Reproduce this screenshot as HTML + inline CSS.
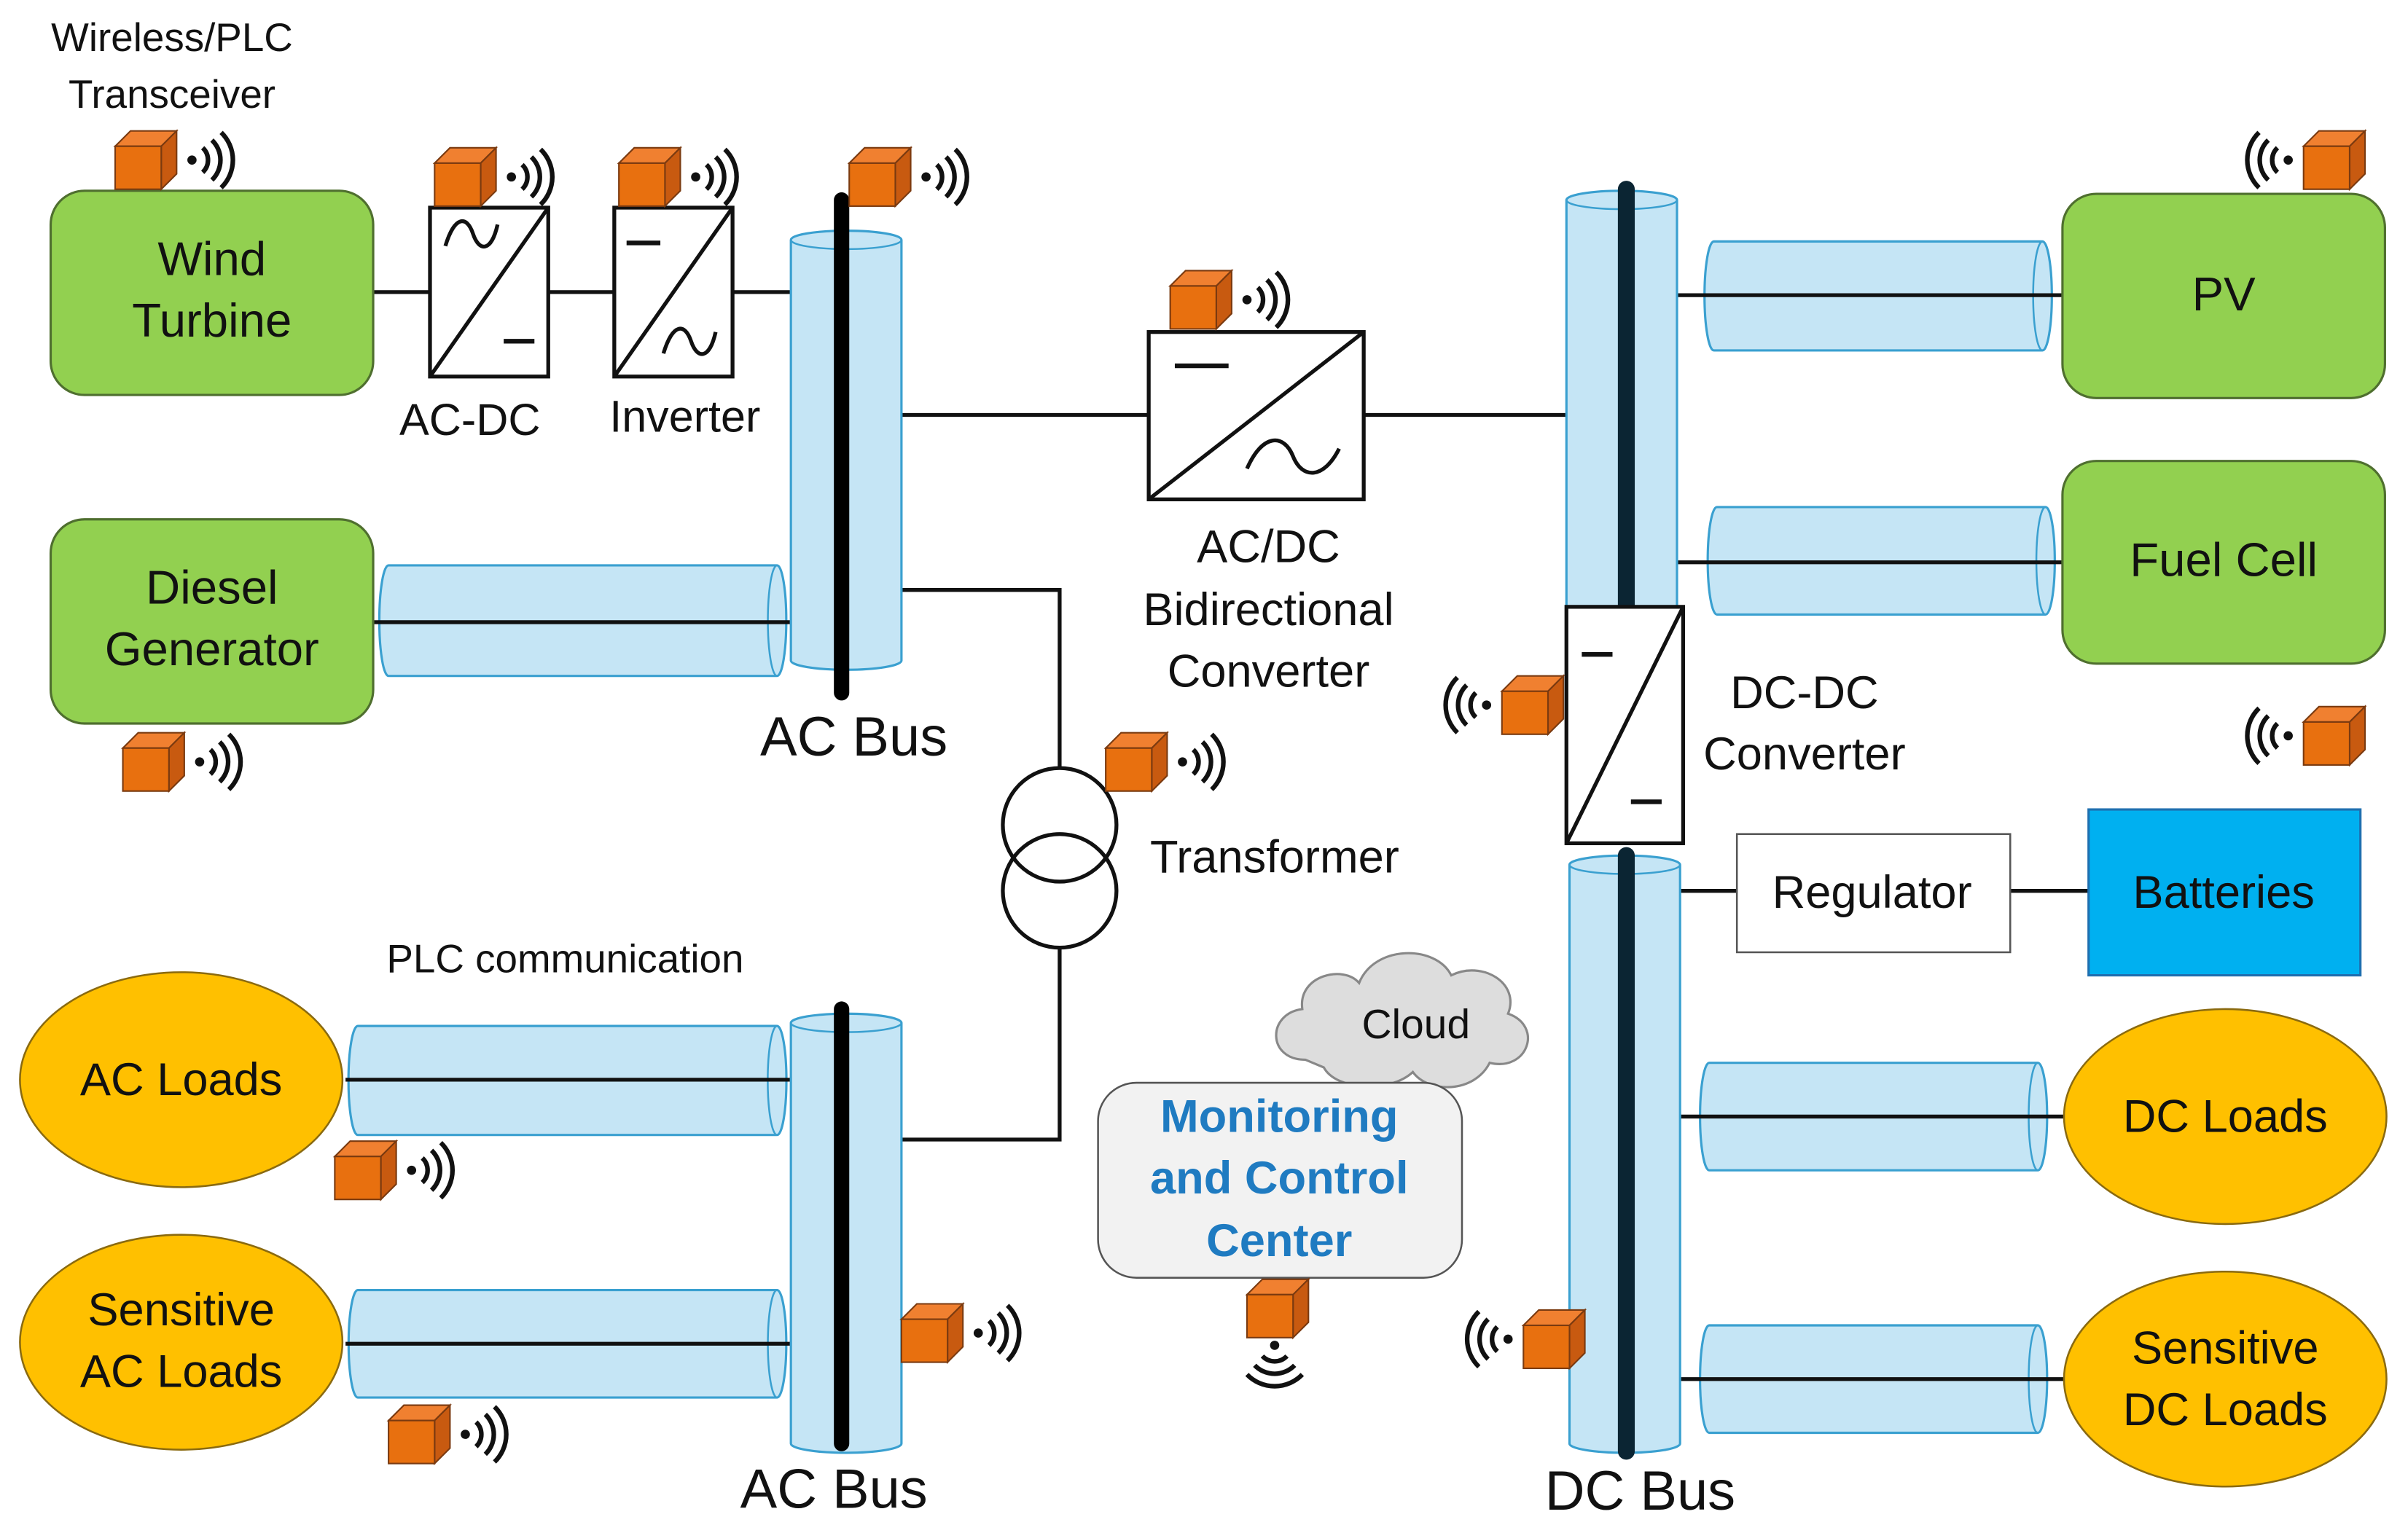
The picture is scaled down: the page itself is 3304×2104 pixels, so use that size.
<!DOCTYPE html>
<html><head><meta charset="utf-8"><style>html,body{margin:0;padding:0;background:#fff}svg{display:block}text{font-family:"Liberation Sans",sans-serif}</style></head>
<body>
<svg width="3304" height="2104" viewBox="0 0 1568 998" xmlns="http://www.w3.org/2000/svg">
<defs>
<g id="cube">
<path d="M0,10 L10,0 L40,0 L30,10 Z" fill="#f08030" stroke="#7a3a10" stroke-width="1"/>
<path d="M30,10 L40,0 L40,28 L30,38 Z" fill="#c85a10" stroke="#7a3a10" stroke-width="1"/>
<rect x="0" y="10" width="30" height="28" fill="#e8700f" stroke="#7a3a10" stroke-width="1"/>
</g>
<g id="waves" fill="none" stroke="#111" stroke-width="3">
<circle cx="0" cy="0" r="3" fill="#111" stroke="none"/>
<path d="M7,-8 A11,11 0 0 1 7,8"/>
<path d="M13,-13 A18,18 0 0 1 13,13"/>
<path d="M19,-18 A25,25 0 0 1 19,18"/>
</g>
<g id="tx"><use href="#cube"/><use href="#waves" x="50" y="19"/></g>
<g id="txl"><use href="#cube" x="30"/><use href="#waves" transform="translate(20,19) scale(-1,1)"/></g>
</defs>

<g stroke="#111" stroke-width="2.5" fill="none">
<line x1="243" y1="190" x2="548" y2="190"/>
<line x1="548" y1="270" x2="1058" y2="270"/>
<polyline points="548,384 690,384 690,500"/>
<polyline points="690,617 690,742 548,742"/>
<line x1="1060" y1="580" x2="1360" y2="580"/>
</g>

<!-- horizontal cylinders -->
<g fill="#c5e5f5" stroke="#3aa0d0" stroke-width="1.5">
<path d="M253,368 H506 A6,36 0 0 1 506,440 H253 A6,36 0 0 1 253,368 Z"/>
<path d="M233,668 H506 A6,35 0 0 1 506,739 H233 A6,35 0 0 1 233,668 Z"/>
<path d="M233,840 H506 A6,35 0 0 1 506,910 H233 A6,35 0 0 1 233,840 Z"/>
<path d="M1116,157 H1330 A6,35 0 0 1 1330,228 H1116 A6,35 0 0 1 1116,157 Z"/>
<path d="M1118,330 H1332 A6,35 0 0 1 1332,400 H1118 A6,35 0 0 1 1118,330 Z"/>
<path d="M1113,692 H1327 A6,35 0 0 1 1327,762 H1113 A6,35 0 0 1 1113,692 Z"/>
<path d="M1113,863 H1327 A6,35 0 0 1 1327,933 H1113 A6,35 0 0 1 1113,863 Z"/>
</g>
<g fill="none" stroke="#3aa0d0" stroke-width="1.2">
<path d="M506,368 A6,36 0 0 0 506,440"/>
<path d="M506,668 A6,35 0 0 0 506,739"/>
<path d="M506,840 A6,35 0 0 0 506,910"/>
<path d="M1330,157 A6,35 0 0 0 1330,228"/>
<path d="M1332,330 A6,35 0 0 0 1332,400"/>
<path d="M1327,692 A6,35 0 0 0 1327,762"/>
<path d="M1327,863 A6,35 0 0 0 1327,933"/>
</g>
<g stroke="#111" stroke-width="2.5">
<line x1="243" y1="405" x2="548" y2="405"/>
<line x1="225" y1="703" x2="548" y2="703"/>
<line x1="225" y1="875" x2="548" y2="875"/>
<line x1="1058" y1="192" x2="1343" y2="192"/>
<line x1="1058" y1="366" x2="1343" y2="366"/>
<line x1="1058" y1="727" x2="1345" y2="727"/>
<line x1="1058" y1="898" x2="1345" y2="898"/>
</g>

<!-- vertical cylinders -->
<g fill="#c5e5f5" stroke="#3aa0d0" stroke-width="1.5">
<path d="M515,156 A36,6 0 0 1 587,156 V430 A36,6 0 0 1 515,430 Z"/>
<path d="M515,666 A36,6 0 0 1 587,666 V940 A36,6 0 0 1 515,940 Z"/>
<path d="M1020,130 A36,6 0 0 1 1092,130 V395 H1020 Z"/>
<path d="M1022,563 A36,6 0 0 1 1094,563 V940 A36,6 0 0 1 1022,940 Z"/>
</g>
<g fill="none" stroke="#3aa0d0" stroke-width="1.2">
<path d="M515,156 A36,6 0 0 0 587,156"/>
<path d="M515,666 A36,6 0 0 0 587,666"/>
<path d="M1020,130 A36,6 0 0 0 1092,130"/>
<path d="M1022,563 A36,6 0 0 0 1094,563"/>
</g>
<g stroke-linecap="round">
<line x1="548" y1="130" x2="548" y2="451" stroke="#000" stroke-width="10"/>
<line x1="548" y1="657" x2="548" y2="940" stroke="#000" stroke-width="10"/>
<line x1="1059" y1="123" x2="1059" y2="395" stroke="#0b2533" stroke-width="11"/>
<line x1="1059" y1="557" x2="1059" y2="945" stroke="#0b2533" stroke-width="11"/>
</g>

<!-- green boxes -->
<g fill="#92d050" stroke="#4f6f2f" stroke-width="1.5">
<rect x="33" y="124" width="210" height="133" rx="22"/>
<rect x="33" y="338" width="210" height="133" rx="22"/>
<rect x="1343" y="126" width="210" height="133" rx="22"/>
<rect x="1343" y="300" width="210" height="132" rx="22"/>
</g>
<g fill="#ffc000" stroke="#8a6a10" stroke-width="1.2">
<ellipse cx="118" cy="703" rx="105" ry="70"/>
<ellipse cx="118" cy="874" rx="105" ry="70"/>
<ellipse cx="1449" cy="727" rx="105" ry="70"/>
<ellipse cx="1449" cy="898" rx="105" ry="70"/>
</g>
<rect x="1360" y="527" width="177" height="108" fill="#00b0f0" stroke="#1f6fb0" stroke-width="1.5"/>
<rect x="1131" y="543" width="178" height="77" fill="#fff" stroke="#555" stroke-width="1.2"/>

<!-- converters -->
<g fill="#fff" stroke="#111" stroke-width="2.5">
<rect x="280" y="135" width="77" height="110"/>
<rect x="400" y="135" width="77" height="110"/>
<rect x="748" y="216" width="140" height="109"/>
<rect x="1020" y="395" width="76" height="154"/>
</g>
<g stroke="#111" stroke-width="2.5" fill="none">
<line x1="280" y1="245" x2="357" y2="135"/>
<line x1="400" y1="245" x2="477" y2="135"/>
<line x1="748" y1="325" x2="888" y2="216"/>
<line x1="1020" y1="549" x2="1096" y2="395"/>
<path d="M290,160 C296,140 304,140 308,152 C312,164 320,164 324,146"/>
<line x1="328" y1="222" x2="348" y2="222" stroke-width="3"/>
<line x1="408" y1="158" x2="430" y2="158" stroke-width="3"/>
<path d="M432,230 C438,210 446,210 450,222 C454,234 462,234 466,216"/>
<line x1="765" y1="238" x2="800" y2="238" stroke-width="3"/>
<path d="M812,305 C822,282 836,282 842,297 C848,312 862,312 872,292"/>
<line x1="1030" y1="426" x2="1050" y2="426" stroke-width="3"/>
<line x1="1062" y1="522" x2="1082" y2="522" stroke-width="3"/>
<circle cx="690" cy="537" r="37" stroke-width="2.5"/>
<circle cx="690" cy="580" r="37" stroke-width="2.5"/>
</g>

<!-- cloud -->
<path d="M850,690 C825,690 825,660 848,657 C845,635 875,628 885,640 C895,615 935,615 945,635 C965,625 990,640 982,660 C1005,668 995,698 970,692 C960,712 930,712 920,698 C905,712 870,710 862,695 Z" fill="#ddd" stroke="#888" stroke-width="1.5"/>
<rect x="715" y="705" width="237" height="127" rx="25" fill="#f2f2f2" stroke="#555" stroke-width="1.2"/>

<!-- transceivers -->
<use href="#tx" x="75" y="85"/>
<use href="#tx" x="283" y="96"/>
<use href="#tx" x="403" y="96"/>
<use href="#tx" x="553" y="96"/>
<use href="#tx" x="762" y="176"/>
<use href="#tx" x="80" y="477"/>
<use href="#tx" x="720" y="477"/>
<use href="#tx" x="218" y="743"/>
<use href="#tx" x="253" y="915"/>
<use href="#tx" x="587" y="849"/>
<use href="#txl" x="948" y="440"/>
<use href="#txl" x="962" y="853"/>
<use href="#txl" x="1470" y="85"/>
<use href="#txl" x="1470" y="460"/>
<use href="#cube" x="812" y="833"/>
<use href="#waves" transform="translate(830,876) rotate(90)"/>

<!-- text -->
<g fill="#111" text-anchor="middle">
<text x="112" y="33" font-size="26">Wireless/PLC</text>
<text x="112" y="70" font-size="26">Transceiver</text>
<text x="138" y="179" font-size="31">Wind</text>
<text x="138" y="219" font-size="31">Turbine</text>
<text x="138" y="393" font-size="31">Diesel</text>
<text x="138" y="433" font-size="31">Generator</text>
<text x="306" y="283" font-size="29">AC-DC</text>
<text x="446" y="281" font-size="29">Inverter</text>
<text x="556" y="492" font-size="36">AC Bus</text>
<text x="543" y="982" font-size="36">AC Bus</text>
<text x="1068" y="983" font-size="36">DC Bus</text>
<text x="826" y="366" font-size="30">AC/DC</text>
<text x="826" y="407" font-size="30">Bidirectional</text>
<text x="826" y="447" font-size="30">Converter</text>
<text x="1175" y="461" font-size="30">DC-DC</text>
<text x="1175" y="501" font-size="30">Converter</text>
<text x="830" y="568" font-size="30">Transformer</text>
<text x="368" y="633" font-size="26">PLC communication</text>
<text x="118" y="713" font-size="30">AC Loads</text>
<text x="118" y="863" font-size="30">Sensitive</text>
<text x="118" y="903" font-size="30">AC Loads</text>
<text x="922" y="676" font-size="27">Cloud</text>
<text x="1448" y="202" font-size="31">PV</text>
<text x="1448" y="375" font-size="31">Fuel Cell</text>
<text x="1219" y="591" font-size="30">Regulator</text>
<text x="1448" y="591" font-size="30">Batteries</text>
<text x="1449" y="737" font-size="30">DC Loads</text>
<text x="1449" y="888" font-size="30">Sensitive</text>
<text x="1449" y="928" font-size="30">DC Loads</text>
</g>
<g fill="#1f7bc1" text-anchor="middle" font-weight="bold" font-size="30">
<text x="833" y="737">Monitoring</text>
<text x="833" y="777">and Control</text>
<text x="833" y="818">Center</text>
</g>
</svg>
</body></html>
